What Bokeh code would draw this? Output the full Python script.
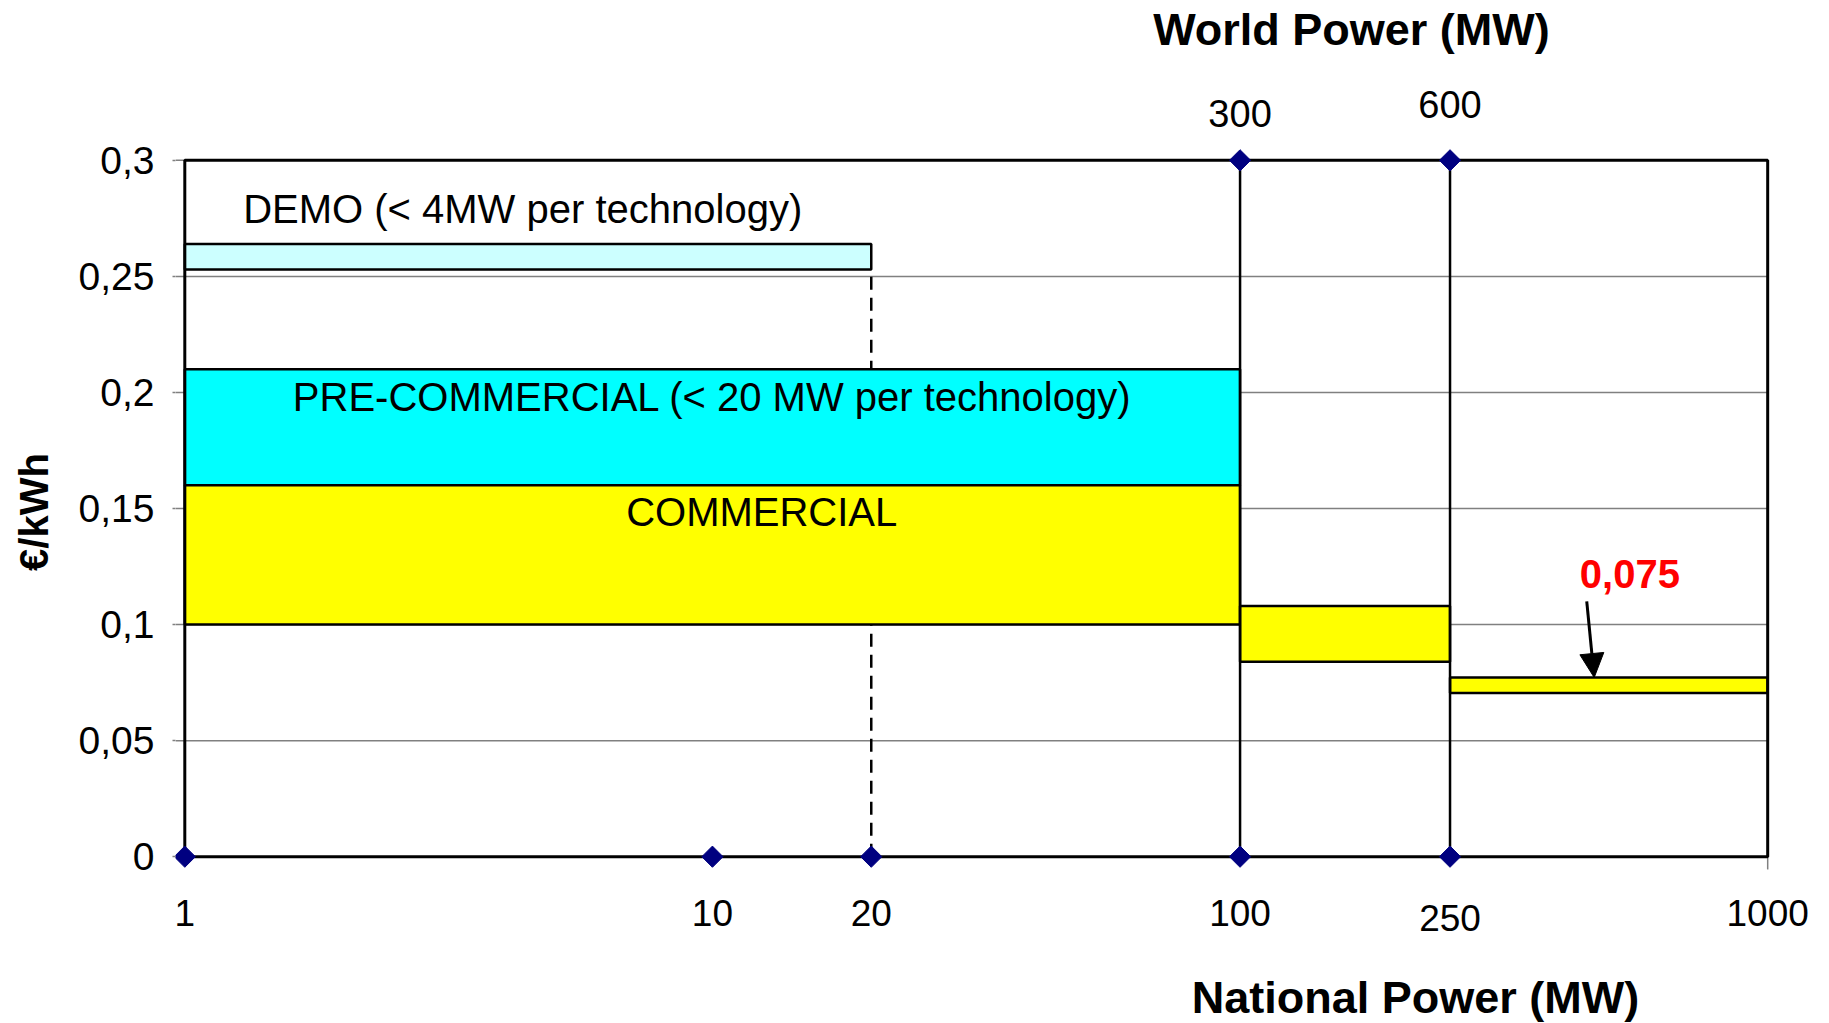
import math
from bokeh.plotting import figure
from bokeh.models import Range1d, FixedTicker, Label, Arrow, NormalHead
from bokeh.core.properties import value
from bokeh.embed import file_html
from bokeh.resources import INLINE

# ---------------- data ----------------
stage_texts = ["DEMO (< 4MW per technology)",
               "PRE-COMMERCIAL (< 20 MW per technology)",
               "COMMERCIAL"]
# cost bands (€/kWh) over national power (MW)
box_left = [1, 1, 1, 100, 250]
box_right = [20, 100, 100, 250, 1000]
box_bottom = [0.253, 0.160, 0.100, 0.084, 0.0705]
box_top = [0.264, 0.210, 0.160, 0.108, 0.0772]

national_ticks = [1, 10, 20, 100, 250, 1000]
national_tick_labels = ["1", "10", "20", "100", "250", "1000"]
national_points = [1, 10, 20, 100, 250]
world_points = [100, 250]            # positions on national axis
world_labels = ["300", "600"]        # world power (MW)
stage_bounds = [100, 250]            # vertical separators
demo_limit = 20
y_ticks = [0, 0.05, 0.1, 0.15, 0.2, 0.25, 0.3]
y_tick_labels = ["0", "0,05", "0,1", "0,15", "0,2", "0,25", "0,3"]
target_text = "0,075"

# ---------------- styles / layout ----------------
box_fill = ["#CCFFFF", "#00FFFF", "#FFFF00", "#FFFF00", "#FFFF00"]
national_label_y = [-0.0242, -0.0242, -0.0242, -0.0242, -0.0262, -0.0242]
world_label_y = [0.3200, 0.3241]
FONT = "Liberation Sans"
W, H = 1829, 1023
LEFT = 175
DECADE_PX = 527.63          # pixels per decade on the national axis
PX_PER_UNIT = 2321.3        # pixels per €/kWh
X0_PX = 184.3               # where national power = 1 lies
Y0_PX = 856.2               # where 0 €/kWh lies

xmin, xmax = national_ticks[0], national_ticks[-1]
ymin, ymax = y_ticks[0], y_ticks[-1]

x_start = 10 ** (-(X0_PX - LEFT) / DECADE_PX)
x_end = 10 ** ((W - X0_PX) / DECADE_PX)
y_start = -(H - Y0_PX) / PX_PER_UNIT
y_end = Y0_PX / PX_PER_UNIT

p = figure(frame_width=W - LEFT, frame_height=H,
           x_axis_type="log",
           x_range=Range1d(x_start, x_end),
           y_range=Range1d(y_start, y_end),
           min_border_left=LEFT, min_border_top=0,
           min_border_right=0, min_border_bottom=0,
           output_backend="svg", toolbar_location=None,
           background_fill_color="white", border_fill_color="white")
p.outline_line_color = None
p.grid.visible = False
p.xaxis.visible = False

# gridlines (gray) incl. tick stubs on the left
p.segment(x0=[x_start] * len(y_ticks), y0=y_ticks,
          x1=[xmax] * len(y_ticks), y1=y_ticks,
          line_color="#808080", line_width=1.5)
# small tick below the end of the national axis
p.segment(x0=[xmax], y0=[ymin], x1=[xmax], y1=[ymin - 0.0055],
          line_color="#808080", line_width=1.5)

# dashed limit of demo phase
p.segment(x0=[demo_limit], y0=[ymin], x1=[demo_limit], y1=[box_bottom[0]],
          line_color="black", line_width=2.5, line_dash="13 8")

# cost bands
p.quad(left=box_left, right=box_right, bottom=box_bottom, top=box_top,
       fill_color=box_fill, line_color="black", line_width=2.5)

# stage separators
p.segment(x0=stage_bounds, y0=[ymin] * 2, x1=stage_bounds, y1=[ymax] * 2,
          line_color="black", line_width=2.5)

# plot box
p.quad(left=[xmin], right=[xmax], bottom=[ymin], top=[ymax],
       fill_color=None, line_color="black", line_width=3)

# diamonds
p.scatter(x=national_points, y=[ymin] * len(national_points), marker="square",
          angle=math.pi / 4, size=15, color="#000080")
p.scatter(x=world_points, y=[ymax] * len(world_points), marker="square",
          angle=math.pi / 4, size=15, color="#000080")

# national power tick labels (bottom) and world power tick labels (top)
p.text(x=national_ticks, y=national_label_y, text=national_tick_labels,
       text_font=value(FONT), text_font_size="37px", text_color="black",
       text_align="center", text_baseline="middle")
p.text(x=world_points, y=world_label_y, text=world_labels,
       text_font=value(FONT), text_font_size="38px", text_color="black",
       text_align="center", text_baseline="middle")

# y axis
ya = p.yaxis[0]
ya.ticker = FixedTicker(ticks=y_ticks)
ya.major_label_overrides = {t: l for t, l in zip(y_ticks, y_tick_labels)}
ya.axis_line_color = None
ya.major_tick_line_color = "#808080"
ya.major_tick_line_width = 1.5
ya.major_tick_out = 3
ya.major_tick_in = 0
ya.minor_tick_line_color = None
ya.major_label_text_font = FONT
ya.major_label_text_font_size = "39px"
ya.major_label_text_color = "black"
ya.major_label_standoff = 18
ya.axis_label = "€/kWh"
ya.axis_label_text_font = FONT
ya.axis_label_text_font_size = "40px"
ya.axis_label_text_font_style = "bold"
ya.axis_label_text_color = "black"
ya.axis_label_standoff = 20

# texts
def lab(text, x, y, size, bold=False, color="black", align="center"):
    p.add_layout(Label(x=x, y=y, text=text, text_font=FONT, text_font_size=size,
                       text_font_style="bold" if bold else "normal",
                       text_color=color, text_align=align, text_baseline="middle"))

lab("World Power (MW)", 162.6, 0.3563, "45px", bold=True)
lab("National Power (MW)", 215, -0.0607, "45px", bold=True)
lab(stage_texts[0], 1.29, 0.279, "40px", align="left")
lab(stage_texts[1], 10.0, 0.198, "40px")
lab(stage_texts[2], 12.4, 0.1487, "40px")
lab(target_text, 548, 0.1216, "40px", bold=True, color="#FF0000")

p.add_layout(Arrow(end=NormalHead(size=24, fill_color="black", line_color="black"),
                   x_start=454, y_start=0.110, x_end=469, y_end=box_top[4],
                   line_color="black", line_width=3))

open("out.html", "w").write(file_html(p, INLINE))
